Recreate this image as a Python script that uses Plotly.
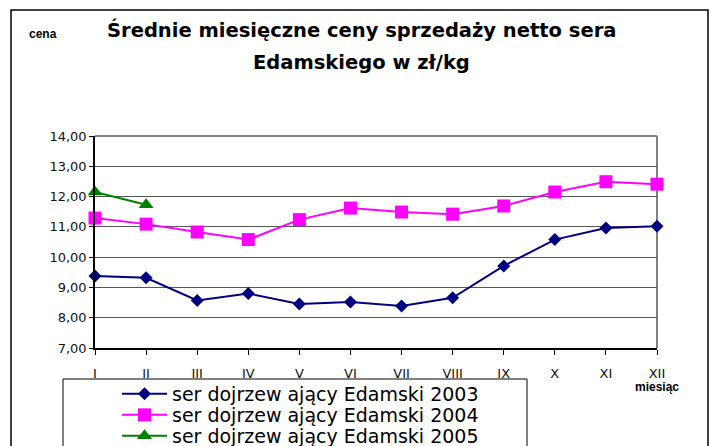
import plotly.graph_objects as go

months = ["I", "II", "III", "IV", "V", "VI", "VII", "VIII", "IX", "X", "XI", "XII"]
ser_2003 = [9.38, 9.32, 8.57, 8.80, 8.45, 8.52, 8.39, 8.66, 9.71, 10.58, 10.96, 11.02]
ser_2004 = [11.29, 11.09, 10.83, 10.58, 11.24, 11.62, 11.49, 11.42, 11.69, 12.15, 12.49, 12.41]
ser_2005 = [12.15, 11.73]
names = ["ser dojrzew ający Edamski 2003", "ser dojrzew ający Edamski 2004", "ser dojrzew ający Edamski 2005"]
y_ticks = [7, 8, 9, 10, 11, 12, 13, 14]

W, H = 713, 446
L, R, T, B = 95, 56, 136, 98
PW, PH = W - L - R, H - T - B
FONT = "Liberation Sans, Arial, sans-serif"
WFONT = "DejaVu Sans, Liberation Sans, Arial, sans-serif"


def px(x):
    return (x - L) / PW


def py(y):
    return (H - B - y) / PH


fig = go.Figure()
fig.add_trace(go.Scatter(x=months, y=ser_2003, name=names[0], mode="lines+markers",
                         line=dict(color="#000080", width=2),
                         marker=dict(symbol="diamond", size=10, color="#000080"),
                         cliponaxis=False, legend="legend"))
fig.add_trace(go.Scatter(x=months, y=ser_2004, name=names[1], mode="lines+markers",
                         line=dict(color="#FF00FF", width=2),
                         marker=dict(symbol="square", size=13, color="#FF00FF"),
                         cliponaxis=False, legend="legend2"))
fig.add_trace(go.Scatter(x=months[:len(ser_2005)], y=ser_2005, name=names[2], mode="lines+markers",
                         line=dict(color="#008000", width=2),
                         marker=dict(symbol="triangle-up", size=13, color="#008000"),
                         cliponaxis=False, legend="legend3"))

leg_common = dict(xanchor="left", yanchor="middle", bgcolor="rgba(0,0,0,0)",
                  font=dict(family=WFONT, size=19, color="#000000"), itemwidth=45)
rows_y = [394, 415, 436]
leg_x = px(117)

fig.update_layout(
    width=W, height=H,
    margin=dict(l=L, r=R, t=T, b=B, autoexpand=False),
    paper_bgcolor="white", plot_bgcolor="white",
    separators=", ",
    showlegend=True,
    legend=dict(x=leg_x, y=py(rows_y[0]), **leg_common),
    legend2=dict(x=leg_x, y=py(rows_y[1]), **leg_common),
    legend3=dict(x=leg_x, y=py(rows_y[2]), **leg_common),
    xaxis=dict(type="category", range=[0, len(months) - 1], showgrid=False,
               showline=True, linecolor="#000000", linewidth=1.5,
               ticks="outside", ticklen=5, tickcolor="#000000",
               ticklabelstandoff=8,
               tickfont=dict(family=WFONT, size=13, color="#111111"), zeroline=False),
    yaxis=dict(range=[7, 14], tickvals=y_ticks, tickformat=".2f",
               showgrid=True, gridcolor="#555555", gridwidth=1,
               showline=True, linecolor="#000000", linewidth=1.5,
               ticks="outside", ticklen=4, tickcolor="#000000",
               tickfont=dict(family=WFONT, size=13, color="#111111"), zeroline=False),
    shapes=[
        # outer chart border
        dict(type="rect", xref="paper", yref="paper", x0=px(11), x1=px(708), y0=py(470), y1=py(10),
             line=dict(color="#000000", width=1.5), layer="below"),
        # plot area border (top and right)
        dict(type="line", xref="paper", yref="paper", x0=0, x1=1, y0=1, y1=1,
             line=dict(color="#808080", width=2), layer="below"),
        dict(type="line", xref="paper", yref="paper", x0=1, x1=1, y0=0, y1=1,
             line=dict(color="#808080", width=2), layer="below"),
        # legend box
        dict(type="rect", xref="paper", yref="paper", x0=px(63), x1=px(527), y0=py(470), y1=py(379),
             line=dict(color="#000000", width=1), layer="below"),
    ],
    annotations=[
        dict(text="<b>Średnie miesięczne ceny sprzedaży netto sera</b>", xref="paper", yref="paper",
             x=px(361), y=py(30), xanchor="center", yanchor="middle", showarrow=False,
             font=dict(family=WFONT, size=19.5, color="#000000")),
        dict(text="<b>Edamskiego w zł/kg</b>", xref="paper", yref="paper",
             x=px(361), y=py(62), xanchor="center", yanchor="middle", showarrow=False,
             font=dict(family=WFONT, size=19.5, color="#000000")),
        dict(text="<b>cena</b>", xref="paper", yref="paper",
             x=px(43), y=py(34), xanchor="center", yanchor="middle", showarrow=False,
             font=dict(family=FONT, size=12, color="#000000")),
        dict(text="<b>miesiąc</b>", xref="paper", yref="paper",
             x=px(657), y=py(387), xanchor="center", yanchor="middle", showarrow=False,
             font=dict(family=FONT, size=12, color="#000000")),
    ],
)

fig.write_html("out.html", config={"displayModeBar": False},
               post_script="document.body.style.margin='0';document.body.style.overflow='hidden';")
